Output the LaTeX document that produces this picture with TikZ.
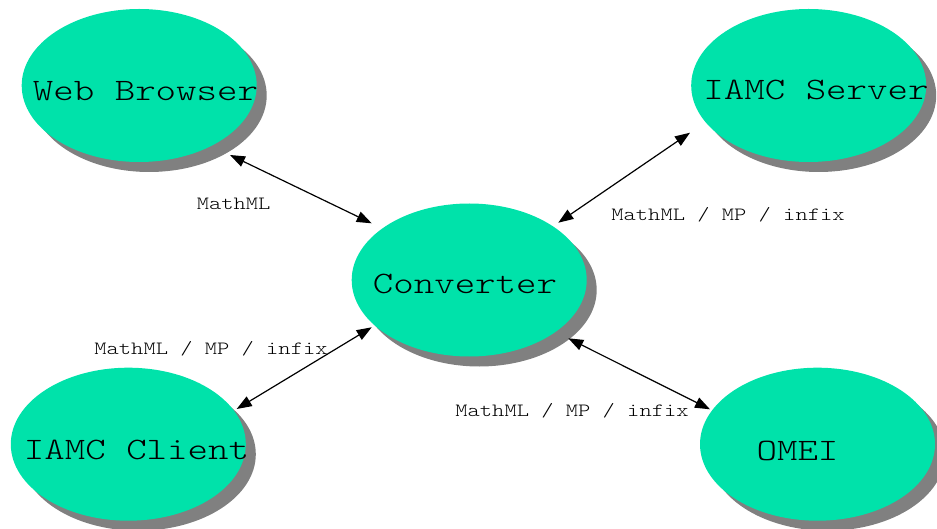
\documentclass[tikz,border=0pt]{standalone}
\usepackage{fontspec}
\usetikzlibrary{arrows.meta,shapes.geometric,shadows}
\newfontfamily\courfont{lmmonolt10-regular.otf}[FakeStretch=1.25]
\definecolor{bubblegreen}{RGB}{0,226,170}
\definecolor{shadowgray}{RGB}{128,128,128}
\tikzset{
  bubble/.style={ellipse, fill=bubblegreen, draw=none,
    minimum width=235pt, minimum height=153pt, inner sep=0pt,
    drop shadow={shadow xshift=10pt, shadow yshift=-10pt,
                 fill=shadowgray, opacity=1}},
  title/.style={anchor=base, inner sep=0pt,
    font={\courfont\fontsize{31.2}{36}\selectfont}},
  tag/.style={anchor=base, inner sep=0pt,
    font={\courfont\fontsize{18.7}{22}\selectfont}},
  link/.style={line width=1.2pt,
    {Triangle[length=15pt,width=11pt]}-{Triangle[length=15pt,width=11pt]}},
}
\begin{document}
\begin{tikzpicture}[x=1pt,y=-1pt]
\useasboundingbox (0,0) rectangle (937,529);

% components
\node[bubble] (wb)     at (139.2,85.5)  {};
\node[bubble] (server) at (808.7,85.5)  {};
\node[bubble] (conv)   at (469.2,280)   {};
\node[bubble] (client) at (128.3,444.2) {};
\node[bubble] (omei)   at (817.5,444.2) {};

% component names
\node[title] (wbtext)     at (145.5,101) {Web Browser};
\node[title] (servertext) at (816,100)   {IAMC Server};
\node[title] (convtext)   at (465,294)   {Converter};
\node[title] (clienttext) at (136.5,459) {IAMC Client};
\node[title] (omeitext)   at (797.5,460) {OMEI};

% two-way links to the converter
\draw[link] ([shift={(90.8,69.5)}]wb.center)      -- ([shift={(-97.5,-56.7)}]conv.center);
\draw[link] ([shift={(-118.7,47.2)}]server.center) -- ([shift={(89.1,-57.3)}]conv.center);
\draw[link] ([shift={(108.4,-35.2)}]client.center) -- ([shift={(-97.5,47.3)}]conv.center);
\draw[link] ([shift={(99.1,58.3)}]conv.center)     -- ([shift={(-107.5,-34.9)}]omei.center);

% link labels
\node[tag] (l1) at (233.7,210)   {MathML};
\node[tag] (l2) at (728,220.7)   {MathML / MP / infix};
\node[tag] (l3) at (211,354.3)   {MathML / MP / infix};
\node[tag] (l4) at (572,416)     {MathML / MP / infix};
\end{tikzpicture}
\end{document}
